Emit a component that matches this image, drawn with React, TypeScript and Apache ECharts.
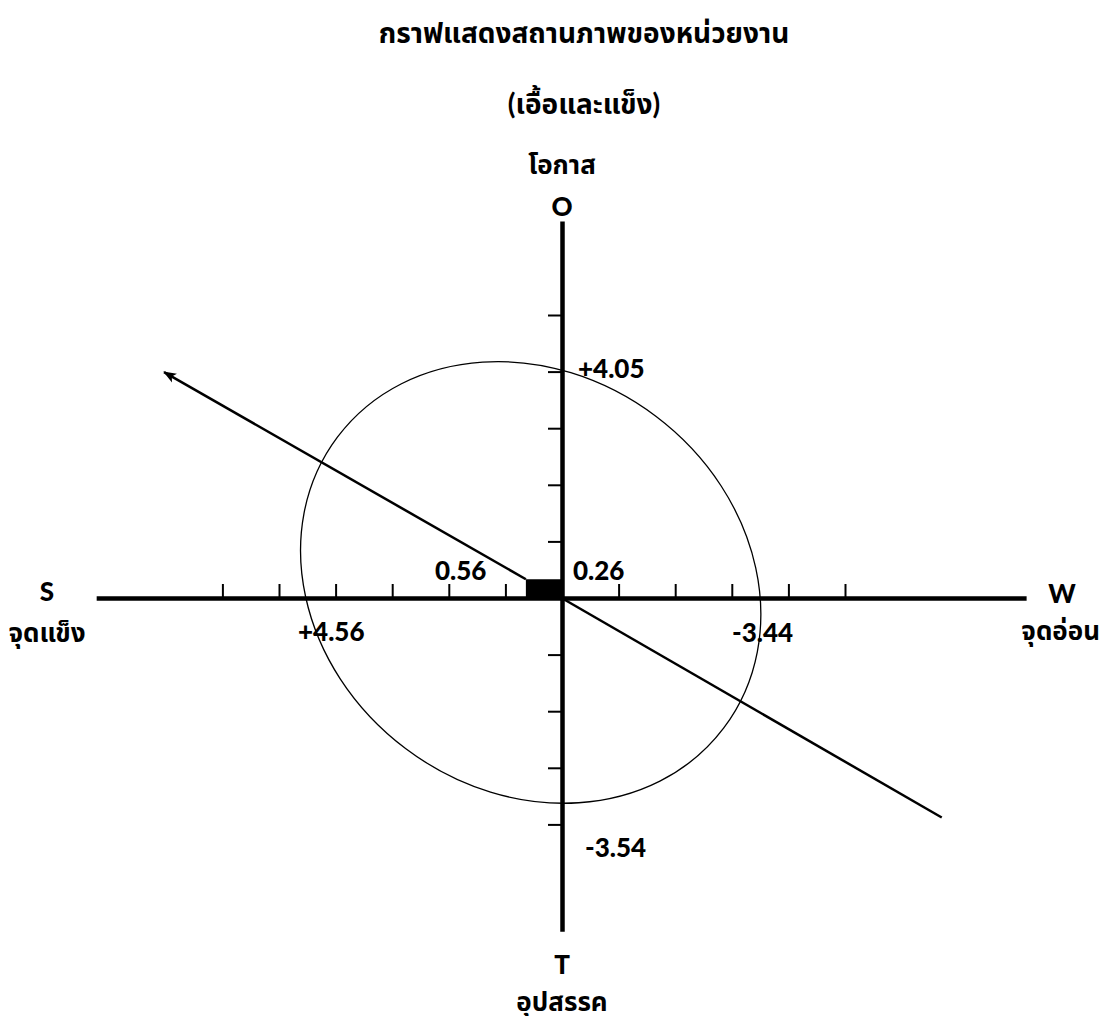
import React, { useEffect, useRef } from "react";
import * as echarts from "echarts";

// ---- data ----
const titleLines = ["กราฟแสดงสถานภาพของหน่วยงาน", "(เอื้อและแข็ง)"];
const quadrantLetters = ["S", "W", "O", "T"];
const quadrantNames = ["จุดแข็ง", "จุดอ่อน", "โอกาส", "อุปสรรค"];
const scoreValues = [4.56, -3.44, 4.05, -3.54];
const scoreLabels = ["+4.56", "-3.44", "+4.05", "-3.54"];
const netValues = [0.56, 0.26];
const netLabels = ["0.56", "0.26"];
const xTicks = [-5, -4, -3, -2, -1, 1, 2, 3, 4, 5, 6];
const yTicks = [-4, -3, -2, -1, 1, 2, 3, 4, 5];

const UNIT = 56.6;
const CX = 562.5;
const CY = 598.5;
const W = 1101;
const H = 1016;

const FONT = "Lato, 'Noto Sans Thai', 'Noto Sans', sans-serif";

function txt(
  text: string,
  x: number,
  y: number,
  size: number,
  align: string = "center",
  weight: string = "bold"
) {
  return {
    type: "text",
    silent: true,
    style: {
      text,
      x,
      y,
      fill: "#000",
      font: `${weight} ${size}px ${FONT}`,
      textAlign: align,
      textVerticalAlign: "middle",
      align,
      verticalAlign: "middle",
    },
  };
}

export default function App() {
  const ref = useRef<HTMLDivElement>(null);
  useEffect(() => {
    if (!ref.current) return;
    const chart = echarts.init(ref.current, null, { renderer: "svg" });

    const xMax = CX / UNIT;
    const xMin = -(W - CX) / UNIT;
    const yMax = CY / UNIT;
    const yMin = -(H - CY) / UNIT;

    const axisExtent = { left: 8.23, right: -8.2, top: 6.66, bottom: -5.89 };

    const option: any = {
      animation: false,
      grid: { left: 0, right: 0, top: 0, bottom: 0 },
      xAxis: { type: "value", inverse: true, min: xMin, max: xMax, show: false },
      yAxis: { type: "value", min: yMin, max: yMax, show: false },
      series: [
        // ellipse
        {
          type: "custom",
          coordinateSystem: "cartesian2d",
          data: [[0.562, 0.284, 4.27, 3.673]],
          z: 2,
          renderItem: (params: any, api: any) => {
            const c = api.coord([api.value(0), api.value(1)]);
            const s = api.size([api.value(2), api.value(3)]);
            return {
              type: "ellipse",
              x: c[0],
              y: c[1],
              rotation: (-37 * Math.PI) / 180,
              shape: { cx: 0, cy: 0, rx: s[0], ry: s[1] },
              style: { fill: "none", stroke: "#000", lineWidth: 1.3 },
            };
          },
        },
        // axes
        {
          type: "custom",
          coordinateSystem: "cartesian2d",
          data: [
            [axisExtent.left, 0, axisExtent.right, 0],
            [0, axisExtent.top, 0, axisExtent.bottom],
          ],
          z: 3,
          renderItem: (params: any, api: any) => {
            const a = api.coord([api.value(0), api.value(1)]);
            const b = api.coord([api.value(2), api.value(3)]);
            return {
              type: "line",
              shape: { x1: a[0], y1: a[1], x2: b[0], y2: b[1] },
              style: { stroke: "#000", lineWidth: 4.5 },
            };
          },
        },
        // x ticks
        {
          type: "custom",
          coordinateSystem: "cartesian2d",
          data: xTicks.map((v) => [v, 0]),
          z: 3,
          renderItem: (params: any, api: any) => {
            const p = api.coord([api.value(0), api.value(1)]);
            return {
              type: "line",
              shape: { x1: p[0], y1: p[1], x2: p[0], y2: p[1] - 14.5 },
              style: { stroke: "#000", lineWidth: 2 },
            };
          },
        },
        // y ticks
        {
          type: "custom",
          coordinateSystem: "cartesian2d",
          data: yTicks.map((v) => [0, v]),
          z: 3,
          renderItem: (params: any, api: any) => {
            const p = api.coord([api.value(0), api.value(1)]);
            return {
              type: "line",
              shape: { x1: p[0], y1: p[1], x2: p[0] - 14.5, y2: p[1] },
              style: { stroke: "#000", lineWidth: 2 },
            };
          },
        },
        // net marker rectangle
        {
          type: "custom",
          coordinateSystem: "cartesian2d",
          data: [[0.647, 0.34]],
          z: 4,
          renderItem: (params: any, api: any) => {
            const a = api.coord([api.value(0), api.value(1)]);
            const o = api.coord([0, 0]);
            return {
              type: "rect",
              shape: { x: a[0], y: a[1], width: o[0] - a[0], height: o[1] - a[1] },
              style: { fill: "#000" },
            };
          },
        },
        // strategy line with arrow
        {
          type: "custom",
          coordinateSystem: "cartesian2d",
          data: [
            [0.647, 0.34, 7.04, 4.0, 1],
            [0, 0, -6.7, -3.87, 0],
          ],
          z: 4,
          renderItem: (params: any, api: any) => {
            const a = api.coord([api.value(0), api.value(1)]);
            const b = api.coord([api.value(2), api.value(3)]);
            const children: any[] = [
              {
                type: "line",
                shape: { x1: a[0], y1: a[1], x2: b[0], y2: b[1] },
                style: { stroke: "#000", lineWidth: 2.5 },
              },
            ];
            if (api.value(4) === 1) {
              const dx = b[0] - a[0];
              const dy = b[1] - a[1];
              const len = Math.sqrt(dx * dx + dy * dy);
              const ux = dx / len;
              const uy = dy / len;
              const L = 12;
              const hw = 5;
              const bx = b[0] - ux * L;
              const by = b[1] - uy * L;
              children.push({
                type: "polygon",
                shape: {
                  points: [
                    [b[0] + ux * 1, b[1] + uy * 1],
                    [bx - uy * hw, by + ux * hw],
                    [bx + ux * 3, by + uy * 3],
                    [bx + uy * hw, by - ux * hw],
                  ],
                },
                style: { fill: "#000" },
              });
            }
            return { type: "group", children };
          },
        },
      ],
      graphic: [
        txt(titleLines[0], 584, 32, 28),
        txt(titleLines[1], 584, 103, 28),
        txt(quadrantNames[2], 562, 164, 26),
        txt(quadrantLetters[2], 562, 206, 26, "center", "900"),
        txt(quadrantLetters[3], 562, 964, 26, "center", "900"),
        txt(quadrantNames[3], 562, 1001, 26),
        txt(quadrantLetters[0], 47, 591, 26, "center", "900"),
        txt(quadrantNames[0], 47, 632, 26),
        txt(quadrantLetters[1], 1062, 593, 26, "center", "900"),
        txt(quadrantNames[1], 1100, 630, 26, "right"),
        txt(scoreLabels[2], 578, 368, 26, "left", "900"),
        txt(scoreLabels[3], 585, 847, 26, "left", "900"),
        txt(scoreLabels[0], 298, 631, 26, "left", "900"),
        txt(scoreLabels[1], 732, 632, 26, "left", "900"),
        txt(netLabels[0], 435, 570, 26, "left", "900"),
        txt(netLabels[1], 573, 570, 26, "left", "900"),
      ],
    };
    chart.setOption(option);
    return () => chart.dispose();
  }, []);
  return (
    <div
      ref={ref}
      style={{ position: "absolute", left: 0, top: 0, width: W, height: H, background: "#fff" }}
    />
  );
}
